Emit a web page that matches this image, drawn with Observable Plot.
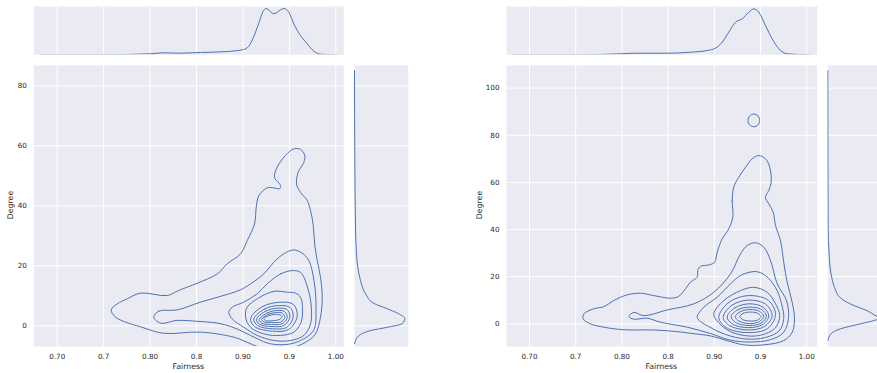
<!DOCTYPE html>
<html><head><meta charset="utf-8">
<script src="https://cdn.jsdelivr.net/npm/d3@7"></script>
<script src="https://cdn.jsdelivr.net/npm/@observablehq/plot@0.6"></script>
<style>
html,body{margin:0;padding:0;background:#fff;overflow:hidden;}
#root{position:relative;width:877px;height:373px;overflow:hidden;font-family:"DejaVu Sans",sans-serif;}
.p{position:absolute;line-height:0;}
.p svg{max-width:none !important;display:block;}
.lab{position:absolute;font-size:7.8px;color:#262626;white-space:nowrap;transform:translate(-50%,-50%);}
</style></head><body><div id="root"></div>
<script>
// ---------- tick values & labels ----------
const xTicks = [0.70, 0.75, 0.80, 0.85, 0.90, 0.95, 1.00];
const xTickLabels = ["0.70", "0.7", "0.80", "0.8", "0.90", "0.9", "1.00"];
const leftYTicks = [0, 20, 40, 60, 80];
const rightYTicks = [0, 20, 40, 60, 80, 100];
const xLabel = "Fairness";
const yLabel = "Degree";

// ---------- left panel: marginal densities ----------
const leftTopFairness = [0.6813,0.7466,0.8005,0.8145,0.8295,0.8543,0.8834,0.9006,0.9060,0.9114,0.9168,0.9222,0.9250,0.9332,0.9440,0.9494,0.9548,0.9620,0.9692,0.9763,0.9835,1.0015];
const leftTopDensity  = [0,0,0.33,0.66,0.53,0.76,1.09,1.75,2.75,5.83,10.26,14.67,15.33,13.58,15.33,14.1,10.26,6.39,3.64,1.19,0.2,0];
const leftSideDegree  = [85.1,55.1,32.9,24.0,19.5,15.1,10.7,7.5,5.7,4.0,2.5,0.7,-0.5,-1.6,-2.9,-4.9,-6.0];
const leftSideDensity = [0,0.0006,0.0019,0.0037,0.0061,0.0112,0.0205,0.0359,0.0609,0.0825,0.0937,0.0888,0.0609,0.0298,0.0112,0.0019,0];

// ---------- left panel: contour lines [fairness, degree] ----------
const leftLevel1 = [[0.9046,28.4],[0.9125,34.0],[0.9143,39.5],[0.9171,43.4],[0.9261,46.0],[0.9332,46.0],[0.9394,45.7],[0.9405,46.8],[0.9340,49.5],[0.9369,52.9],[0.9458,56.8],[0.9548,59.0],[0.9620,58.8],[0.9666,56.8],[0.9655,54.5],[0.9595,51.2],[0.9577,47.3],[0.9620,44.5],[0.9692,41.8],[0.9728,38.4],[0.9757,33.4],[0.9774,26.8],[0.9800,21.8],[0.9835,16.2],[0.9854,9.5],[0.9835,2.9],[0.9781,-2.7],[0.9674,-5.5],[0.9512,-7.4],[0.9297,-7.9],[0.9154,-6.9],[0.9046,-5.5],[0.8902,-3.8],[0.8543,-2.1],[0.8148,-2.5],[0.7933,-0.7],[0.7628,2.9],[0.7582,5.3],[0.7646,7.3],[0.7754,9.0],[0.7897,10.9],[0.8185,10.1],[0.8309,11.8],[0.8508,14.2],[0.8723,17.3],[0.8831,20.7],[0.8974,24.0]];
const leftLevel2 = [[0.8040,2.9],[0.8094,4.9],[0.8292,5.3],[0.8543,7.9],[0.8723,9.5],[0.8974,12.0],[0.9082,14.0],[0.9225,17.3],[0.9332,21.2],[0.9440,24.0],[0.9548,25.3],[0.9638,24.2],[0.9709,21.8],[0.9765,15.1],[0.9787,6.2],[0.9760,-1.6],[0.9620,-4.9],[0.9477,-6.2],[0.9297,-6.0],[0.9154,-4.3],[0.9010,-2.1],[0.8866,-0.2],[0.8723,0.9],[0.8508,1.5],[0.8292,1.8],[0.8112,0.9]];
const leftLevel3 = [[0.9531,18.4],[0.9405,17.3],[0.9261,14.0],[0.9154,10.7],[0.9010,7.9],[0.8884,6.2],[0.8848,4.5],[0.8884,2.3],[0.9010,-0.5],[0.9154,-3.2],[0.9332,-4.9],[0.9512,-4.9],[0.9656,-3.2],[0.9728,0.7],[0.9733,7.3],[0.9690,13.4],[0.9620,17.8]];
const leftLevel4 = [[0.9477,11.2],[0.9332,11.5],[0.9154,9.0],[0.9046,6.2],[0.9028,2.9],[0.9082,-0.5],[0.9225,-2.7],[0.9405,-3.2],[0.9548,-2.1],[0.9625,1.1],[0.9641,6.2],[0.9620,9.5],[0.9566,10.9]];
const leftLevel5 = [[0.9082,2.43],[0.9211,6.43],[0.9405,7.87],[0.9545,7.1],[0.9584,3.1],[0.9491,-1.24],[0.9318,-1.8],[0.9125,-0.24]];
const leftLevel6 = [[0.9117,2.26],[0.9232,5.6],[0.9383,6.76],[0.9507,6.1],[0.9541,2.93],[0.9469,-0.57],[0.9318,-1.0],[0.9157,0.1]];
const leftLevel7 = [[0.9146,2.2],[0.9248,4.93],[0.9372,5.86],[0.9475,5.43],[0.9505,2.93],[0.9442,0.1],[0.9313,-0.24],[0.9178,0.53]];
const leftLevel8 = [[0.9175,2.1],[0.9265,4.33],[0.9367,5.1],[0.9448,4.76],[0.9477,2.76],[0.9421,0.66],[0.9308,0.43],[0.9200,0.93]];
const leftLevel9 = [[0.9200,2.1],[0.9275,3.86],[0.9362,4.43],[0.9426,4.2],[0.9451,2.76],[0.9405,1.26],[0.9308,1.1],[0.9227,1.33]];
const leftLevel10 = [[0.9225,2.4],[0.9290,3.5],[0.9370,3.8],[0.9420,3.2],[0.9400,2.2],[0.9320,1.7],[0.9250,1.7]];

// ---------- right panel: marginal densities ----------
const rightTopFairness = [0.6813,0.7480,0.7985,0.8129,0.8490,0.8742,0.8923,0.9012,0.9085,0.9156,0.9229,0.9301,0.9373,0.9427,0.9481,0.9553,0.9626,0.9698,0.9788,1.0041];
const rightTopDensity  = [0,0,0.33,0.53,0.53,0.86,1.42,2.19,4.17,7.5,10.8,11.9,14.1,15.2,14.1,9.7,5.3,1.99,0.33,0];
const rightSideDegree  = [107.5,41.0,29.7,21.2,15.5,11.0,7.8,5.6,3.2,2.6,1.4,-0.3,-2.1,-4.2,-7.1];
const rightSideDensity = [0,0.0006,0.0024,0.0061,0.0125,0.0236,0.0484,0.0732,0.0918,0.0987,0.0857,0.0546,0.0236,0.0061,0];

// ---------- right panel: contour lines [fairness, degree] ----------
const rightIsland = [[0.9490,86.3],[0.9472,88.2],[0.9427,89.0],[0.9382,88.2],[0.9364,86.3],[0.9382,84.4],[0.9427,83.6],[0.9472,84.4]];
const rightLevel1 = [[0.9200,45.2],[0.9193,52.3],[0.9210,58.0],[0.9264,62.2],[0.9337,66.4],[0.9409,70.0],[0.9481,71.4],[0.9553,70.0],[0.9600,66.4],[0.9615,60.1],[0.9589,56.6],[0.9553,53.7],[0.9589,50.9],[0.9637,47.4],[0.9662,41.7],[0.9716,35.3],[0.9751,26.1],[0.9788,17.7],[0.9842,9.2],[0.9867,2.1],[0.9842,-3.6],[0.9751,-7.1],[0.9535,-8.9],[0.9319,-8.9],[0.9139,-7.1],[0.8958,-5.1],[0.8742,-4.0],[0.8598,-3.3],[0.8345,-2.6],[0.8020,-2.5],[0.7804,-1.4],[0.7660,0],[0.7581,2.1],[0.7587,4.2],[0.7696,6.4],[0.7804,7.3],[0.7912,9.9],[0.8057,12.3],[0.8201,13.0],[0.8345,12.0],[0.8526,10.9],[0.8615,11.7],[0.8688,14.9],[0.8742,17.7],[0.8814,19.8],[0.8821,22.6],[0.8850,24.4],[0.8940,25.0],[0.9002,26.1],[0.9031,30.4],[0.9085,36.1],[0.9146,39.6]];
const rightLevel2 = [[0.8075,3.1],[0.8129,4.9],[0.8237,3.5],[0.8490,5.9],[0.8778,8.5],[0.8994,13.4],[0.9175,21.2],[0.9283,29.7],[0.9355,33.2],[0.9445,34.4],[0.9535,32.5],[0.9608,26.9],[0.9680,17.0],[0.9781,9.9],[0.9802,2.3],[0.9748,-3.7],[0.9608,-6.7],[0.9391,-7.7],[0.9175,-6.9],[0.8958,-4.1],[0.8706,-1.4],[0.8417,0.7],[0.8274,2.4],[0.8129,2.0]];
const rightLevel3 = [[0.8814,2.8],[0.8886,7.1],[0.9031,11.3],[0.9175,17.0],[0.9283,20.5],[0.9445,22.2],[0.9553,20.5],[0.9662,15.4],[0.9727,8.6],[0.9751,2.3],[0.9705,-2.8],[0.9553,-5.8],[0.9337,-6.4],[0.9121,-4.5],[0.8937,-1.1],[0.8850,1.0]];
const rightLevel4 = [[0.8994,4.2],[0.9102,9.9],[0.9283,14.1],[0.9427,15.5],[0.9572,13.4],[0.9662,8.5],[0.9708,3.5],[0.9662,-1.6],[0.9553,-4.2],[0.9391,-5.2],[0.9175,-3.3],[0.9045,0.6]];
const rightLevel5 = [[0.9048,2.7],[0.9153,9.0],[0.9369,12.0],[0.9586,9.9],[0.9662,3.9],[0.9575,-2.0],[0.9359,-3.7],[0.9131,-1.6]];
const rightLevel6 = [[0.9096,2.7],[0.9186,7.8],[0.9369,10.1],[0.9553,8.4],[0.9626,3.5],[0.9543,-1.1],[0.9359,-2.6],[0.9164,-0.7]];
const rightLevel7 = [[0.9139,2.9],[0.9218,6.7],[0.9375,8.5],[0.9526,7.1],[0.9589,3.3],[0.9521,-0.3],[0.9369,-1.6],[0.9196,-0.1]];
const rightLevel8 = [[0.9182,3.1],[0.9250,5.9],[0.9380,7.1],[0.9510,6.1],[0.9564,3.3],[0.9505,0.3],[0.9375,-0.7],[0.9229,0.6]];
const rightLevel9 = [[0.9226,3.1],[0.9283,5.2],[0.9386,6.1],[0.9489,5.3],[0.9535,3.2],[0.9489,1.0],[0.9380,0.1],[0.9267,1.2]];
const rightLevel10 = [[0.9275,3.1],[0.9315,4.5],[0.9391,5.0],[0.9467,4.5],[0.9507,3.1],[0.9467,1.6],[0.9391,1.2],[0.9315,1.7]];

// ---------- drawing ----------
const BG = "#EAEAF2", LINE = "#4C72B0", TXT = "#262626";
const fmtX = d => { const i = xTicks.findIndex(t => Math.abs(t - d) < 1e-9); return i < 0 ? "" : xTickLabels[i]; };
const toRows = levels => levels.flatMap((pts, i) => pts.map(([x, y]) => ({x, y, level: i})));
const root = document.getElementById("root");
const baseStyle = {background: "transparent", fontFamily: "DejaVu Sans, sans-serif", fontSize: "7.2px", color: TXT, overflow: "visible", maxWidth: "none"};

function place(node, left, top, w, h) {
  const d = document.createElement("div");
  d.className = "p";
  d.style.left = left + "px"; d.style.top = top + "px";
  d.style.width = w + "px"; d.style.height = h + "px";
  d.appendChild(node); root.appendChild(d);
}
function label(text, x, y, rotate) {
  const d = document.createElement("div");
  d.className = "lab"; d.textContent = text;
  d.style.left = x + "px"; d.style.top = y + "px";
  if (rotate) d.style.transform = "translate(-50%,-50%) rotate(-90deg)";
  root.appendChild(d);
}

function drawPanel(o) {
  // top marginal
  place(Plot.plot({
    style: baseStyle, width: o.w, height: 60,
    marginLeft: o.ml, marginRight: o.mr, marginTop: 6, marginBottom: 5.7,
    x: {domain: o.xDomain, axis: null}, y: {domain: [0, 16], axis: null},
    marks: [
      Plot.frame({fill: BG, stroke: "none"}),
      Plot.gridX(xTicks, {stroke: "white", strokeOpacity: 1, strokeWidth: 1}),
      Plot.line(o.topX.map((x, i) => ({x, d: o.topD[i]})), {x: "x", y: "d", curve: "monotone-x", stroke: LINE, strokeWidth: 1, clip: true})
    ]
  }), o.left, 0, o.w, 60);
  // joint contour plot
  place(Plot.plot({
    style: baseStyle, width: o.w, height: 313,
    marginLeft: o.ml, marginRight: o.mr, marginTop: 5, marginBottom: 27,
    x: {domain: o.xDomain}, y: {domain: o.yDomain},
    marks: [
      Plot.frame({fill: BG, stroke: "none"}),
      Plot.gridX(xTicks, {stroke: "white", strokeOpacity: 1, strokeWidth: 1}),
      Plot.gridY(o.yTicks, {stroke: "white", strokeOpacity: 1, strokeWidth: 1}),
      Plot.line(toRows(o.levels), {x: "x", y: "y", z: "level", curve: "catmull-rom-closed", stroke: LINE, strokeWidth: 1, clip: true}),
      Plot.axisX(xTicks, {tickSize: 0, tickPadding: 7, tickFormat: fmtX, label: null, fill: TXT}),
      Plot.axisY(o.yTicks, {tickSize: 0, tickPadding: 7, label: null, fill: TXT})
    ]
  }), o.left, 60, o.w, 313);
  // side marginal
  place(Plot.plot({
    style: baseStyle, width: 70, height: 313,
    marginLeft: o.sml, marginRight: 70 - o.sml - 53.7, marginTop: 5, marginBottom: 27,
    x: {domain: [0, 0.1], axis: null}, y: {domain: o.yDomain, axis: null},
    marks: [
      Plot.frame({fill: BG, stroke: "none"}),
      Plot.gridY(o.yTicks, {stroke: "white", strokeOpacity: 1, strokeWidth: 1}),
      Plot.line(o.sideY.map((y, i) => ({y, d: o.sideD[i]})), {x: "d", y: "y", curve: "monotone-y", stroke: LINE, strokeWidth: 1, clip: true})
    ]
  }), o.sideLeft, 60, 70, 313);
  label(xLabel, o.xLabelX, 366, false);
  label(yLabel, o.yLabelX, 205, true);
}

drawPanel({
  left: 0, w: 345, ml: 33.3, mr: 1.7,
  xDomain: [0.6748, 1.0086], yDomain: [-6.9, 86.8], yTicks: leftYTicks,
  topX: leftTopFairness, topD: leftTopDensity,
  sideY: leftSideDegree, sideD: leftSideDensity, sideLeft: 345, sml: 9,
  levels: [leftLevel1, leftLevel2, leftLevel3, leftLevel4, leftLevel5, leftLevel6, leftLevel7, leftLevel8, leftLevel9, leftLevel10],
  xLabelX: 188.3, yLabelX: 10
});
drawPanel({
  left: 470, w: 350, ml: 36, mr: 3.3,
  xDomain: [0.6751, 1.0113], yDomain: [-9.6, 109.6], yTicks: rightYTicks,
  topX: rightTopFairness, topD: rightTopDensity,
  sideY: rightSideDegree, sideD: rightSideDensity, sideLeft: 820, sml: 7.3,
  levels: [rightIsland, rightLevel1, rightLevel2, rightLevel3, rightLevel4, rightLevel5, rightLevel6, rightLevel7, rightLevel8, rightLevel9, rightLevel10],
  xLabelX: 661.3, yLabelX: 478.5
});
</script></body></html>
